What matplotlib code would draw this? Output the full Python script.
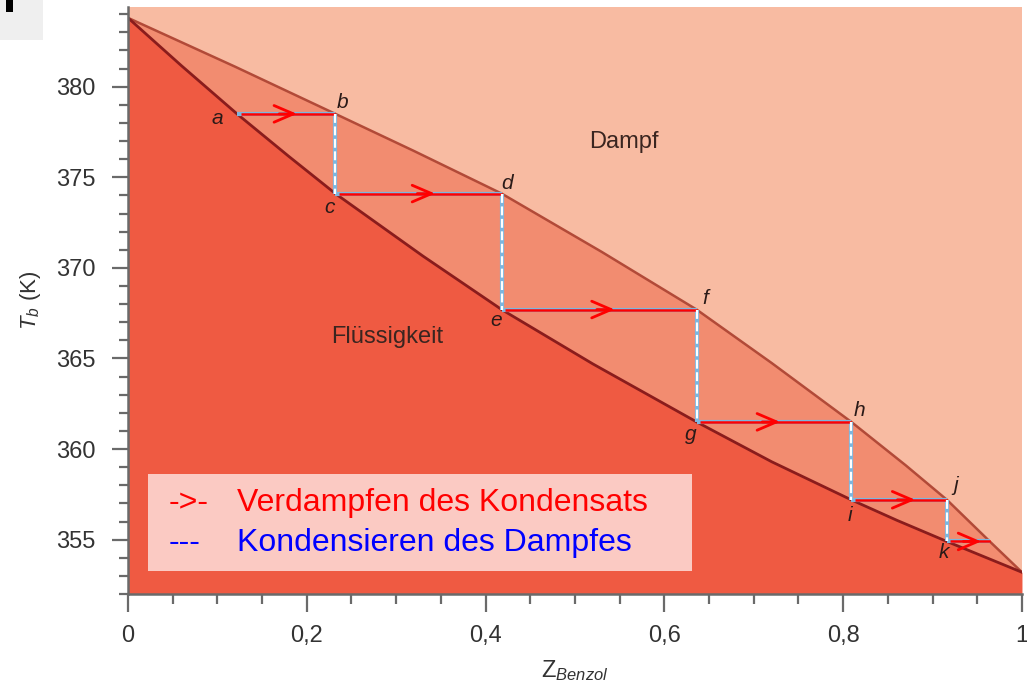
import matplotlib
matplotlib.use("Agg")
import numpy as np
from matplotlib import pyplot as plt
from matplotlib.patches import Rectangle
from matplotlib.ticker import MultipleLocator, FuncFormatter

plt.rcParams['font.family'] = ['Liberation Sans', 'DejaVu Sans']
plt.rcParams['mathtext.fontset'] = 'custom'
plt.rcParams['mathtext.it'] = 'Liberation Sans:italic'
plt.rcParams['mathtext.rm'] = 'Liberation Sans'

# boiling curve (liquid) and dew curve (vapour)
liq_x = [0.0, 0.06, 0.122, 0.18, 0.232, 0.33, 0.418, 0.52, 0.636, 0.72, 0.809, 0.86, 0.916, 1.0]
liq_T = [383.8, 381.15, 378.5, 376.15, 374.1, 370.65, 367.7, 364.7, 361.5, 359.3, 357.2, 356.07, 354.9, 353.2]
vap_x = [0.0, 0.12, 0.232, 0.32, 0.418, 0.53, 0.636, 0.72, 0.809, 0.87, 0.916, 0.964, 1.0]
vap_T = [383.8, 381.1, 378.5, 376.45, 374.1, 370.88, 367.7, 364.75, 361.5, 359.1, 357.2, 354.9, 353.2]

# staircase: evaporate (horizontal, liquid -> vapour), condense (vertical)
step_x0 = [0.122, 0.232, 0.418, 0.636, 0.809, 0.916]
step_x1 = [0.232, 0.418, 0.636, 0.809, 0.916, 0.964]
step_T = [378.5, 374.1, 367.7, 361.5, 357.2, 354.9]
arrow_frac = [0.61, 0.6, 0.58, 0.54, 0.67, 0.8]

point_names = ['a', 'b', 'c', 'd', 'e', 'f', 'g', 'h', 'i', 'j', 'k']
point_x = [0.122, 0.232, 0.232, 0.418, 0.418, 0.636, 0.636, 0.809, 0.809, 0.916, 0.916]
point_T = [378.5, 378.5, 374.1, 374.1, 367.7, 367.7, 361.5, 361.5, 357.2, 357.2, 354.9]
point_off = [(-14, -3), (5, 8), (-4, -10), (4, 7), (-4, -8), (6, 8),
             (-4, -9), (6, 8), (-1, -11), (6, 10), (-2, -8)]

c_liq = '#EF5A42'
c_two = '#F28C70'
c_vap = '#F8BBA2'
c_blue = '#7DB6DE'
c_axis = '#6a6a6a'

fig = plt.figure(figsize=(10.27, 6.83), dpi=100)
ax = fig.add_axes([0.1246, 0.1303, 0.8705, 0.8595])
ax.set_facecolor(c_vap)
ymin = 352
ax.set_xlim(0, 1)
ax.set_ylim(ymin, 384.4)

# regions
ax.fill(np.concatenate([liq_x, vap_x[::-1]]), np.concatenate([liq_T, vap_T[::-1]]),
        color=c_two, lw=0, zorder=1)
ax.fill_between(liq_x, ymin, liq_T, color=c_liq, lw=0, zorder=1)
ax.plot(vap_x, vap_T, color='#B24A38', lw=1.8, zorder=2)
ax.plot(liq_x, liq_T, color='#8A1C1C', lw=2.0, zorder=2)

# staircase lines
for i in range(len(step_T)):
    x0, x1, T = step_x0[i], step_x1[i], step_T[i]
    ax.plot([x0, x1], [T, T], color=c_blue, lw=3, zorder=3, solid_capstyle='butt')
    ax.plot([x0 + 0.004, x1], [T, T], color='red', lw=1.8, zorder=4, solid_capstyle='butt')
    tip = x0 + arrow_frac[i] * (x1 - x0)
    ax.annotate('', xy=(tip, T), xytext=(tip - 0.02, T),
                arrowprops=dict(arrowstyle='->,head_length=1.4,head_width=0.6',
                                color='red', lw=2, shrinkA=0, shrinkB=0), zorder=5)
    if i < len(step_T) - 1:
        Tn = step_T[i + 1]
        ax.plot([x1, x1], [T, Tn], color=c_blue, lw=3, zorder=3, solid_capstyle='butt')
        ax.plot([x1, x1], [T, Tn], color='white', lw=1.6, zorder=4,
                linestyle=(0, (4, 1.6)))

for name, x, T, off in zip(point_names, point_x, point_T, point_off):
    ax.annotate(name, xy=(x, T), xytext=off, textcoords='offset points',
                ha='center', va='center', fontsize=15, style='italic',
                color='#2a1a18', zorder=6)

ax.text(0.555, 0.760, 'Dampf', transform=ax.transAxes, fontsize=17,
        color='#3a2520', ha='center', va='baseline')
ax.text(0.2897, 0.4276, 'Flüssigkeit', transform=ax.transAxes, fontsize=17,
        color='#3a2520', ha='center', va='baseline')

# legend box
ax.add_patch(Rectangle((0.0224, 0.039), 0.6085, 0.165, transform=ax.transAxes,
                       facecolor='#FBCAC3', edgecolor='none', zorder=7))
ax.text(0.046, 0.155, '->-', transform=ax.transAxes, color='red', fontsize=23,
        va='center', ha='left', zorder=8)
ax.text(0.122, 0.155, 'Verdampfen des Kondensats', transform=ax.transAxes,
        color='red', fontsize=23, va='center', ha='left', zorder=8)
ax.text(0.046, 0.087, '---', transform=ax.transAxes, color='blue', fontsize=23,
        va='center', ha='left', zorder=8)
ax.text(0.122, 0.087, 'Kondensieren des Dampfes', transform=ax.transAxes,
        color='blue', fontsize=23, va='center', ha='left', zorder=8)

# axes styling
for s in ['top', 'right']:
    ax.spines[s].set_visible(False)
for s in ['left', 'bottom']:
    ax.spines[s].set_color(c_axis)
    ax.spines[s].set_linewidth(1.8)
    ax.spines[s].set_zorder(9)

ax.xaxis.set_major_locator(MultipleLocator(0.2))
ax.xaxis.set_minor_locator(MultipleLocator(0.05))
ax.yaxis.set_major_locator(MultipleLocator(5))
ax.yaxis.set_minor_locator(MultipleLocator(1))
ax.xaxis.set_major_formatter(FuncFormatter(
    lambda v, p: '0' if abs(v) < 1e-9 else ('1' if abs(v - 1) < 1e-9 else f'{v:.1f}'.replace('.', ','))))
ax.yaxis.set_major_formatter(FuncFormatter(lambda v, p: f'{v:.0f}'))
ax.tick_params(axis='y', which='major', length=11.5, width=1.6, color=c_axis,
               labelsize=17, labelcolor='#333333', pad=12)
ax.tick_params(axis='y', which='minor', length=6.5, width=1.6, color=c_axis)
ax.tick_params(axis='x', which='major', length=13, width=1.6, color=c_axis,
               labelsize=17, labelcolor='#333333', pad=9)
ax.tick_params(axis='x', which='minor', length=7, width=1.6, color=c_axis)

ax.set_ylabel(r'$T_b$ (K)', fontsize=16, color='#333333', labelpad=9)
ax.set_xlabel(r'$\mathregular{Z}_{Benzol}$', fontsize=17, color='#333333', labelpad=8)

# cropped corner fragment at top left
fig.patches.append(Rectangle((0, 1 - 40 / 683), 43 / 1027, 40 / 683,
                             transform=fig.transFigure, facecolor='#EFEFEF',
                             edgecolor='none'))
fig.patches.append(Rectangle((6 / 1027, 1 - 12 / 683), 7 / 1027, 12 / 683,
                             transform=fig.transFigure, facecolor='black',
                             edgecolor='none'))

fig.savefig('out.png', dpi=100)
